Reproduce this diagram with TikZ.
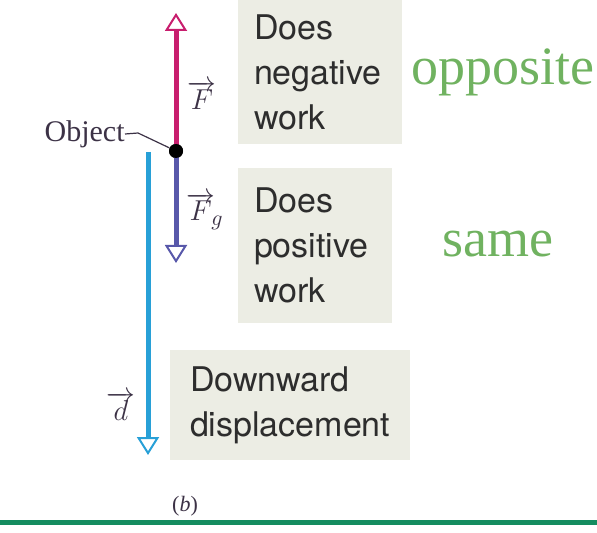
\documentclass[tikz,border=0pt]{standalone}
\usepackage{fontspec}
\setmainfont{Liberation Serif}
\newfontfamily\boxfont{TeX Gyre Heros}
\usetikzlibrary{arrows.meta,positioning}

\definecolor{boxgray}{RGB}{236,237,228}
\definecolor{boxtext}{RGB}{45,45,45}
\definecolor{fcol}{RGB}{200,30,110}
\definecolor{fgcol}{RGB}{88,88,170}
\definecolor{dcol}{RGB}{40,160,215}
\definecolor{notegreen}{RGB}{112,178,96}
\definecolor{rulegreen}{RGB}{20,140,95}
\definecolor{objcol}{RGB}{60,50,70}

\begin{document}
\begin{tikzpicture}[x=0.5pt, y=-0.5pt,
  workbox/.style={rectangle, fill=boxgray, text=boxtext, align=left,
                  inner sep=0pt, font=\boxfont\fontsize{17}{22.5}\selectfont},
  vecarrow/.style={line width=2.5pt,
                   -{Triangle[open, length=9pt, width=11pt, line width=1pt]}},
  veclabel/.style={font=\fontsize{15}{18}\selectfont, text=objcol, inner sep=0pt},
  note/.style={font=\fontsize{27}{30}\selectfont, text=notegreen}]
  \useasboundingbox (0,0) rectangle (597,533);
  % grey boxes
  \node[workbox, minimum width=82pt, minimum height=72.5pt,
        text width=66pt] (negbox) at (320,72) {Does\\negative\\work};
  \node[workbox, minimum width=77pt, minimum height=77.5pt,
        text width=61pt] (posbox) at (315,245.5) {Does\\positive\\work};
  \node[workbox, minimum width=120pt, minimum height=55pt,
        text width=100pt] (dispbox) at (290,405) {Downward\\displacement};
  % the object and its vectors
  \node[circle, fill=black, inner sep=0pt, minimum size=7pt] (obj) at (176,151) {};
  \coordinate (ftip) at (176,13);
  \coordinate (fgtip) at (176,263);
  \coordinate (dstart) at (148,152);
  \coordinate (dtip) at (148,455);
  \draw[vecarrow, fcol] (obj.center) -- (ftip);
  \draw[vecarrow, fgcol] (obj.center) -- (fgtip);
  \draw[vecarrow, dcol] (dstart) -- (dtip);
  \node[circle, fill=black, inner sep=0pt, minimum size=7pt] at (obj) {};
  \node[veclabel] (flabel) at (202,95) {$\overrightarrow{F}$};
  \node[veclabel] (fglabel) at (205,211) {$\overrightarrow{F}_{\!g}$};
  \node[veclabel] (dlabel) at (121,406) {$\overrightarrow{d}$};
  % object label with its leader
  \node[font=\fontsize{15}{17}\selectfont, text=objcol, anchor=east,
        inner sep=0pt] (objlabel) at (125,134) {Object};
  \coordinate (bend) at (138,133);
  \draw[objcol, line width=0.6pt] (objlabel.east) -- (bend) -- (obj);
  % green notes
  \node[note] (opp) at (503,72) {opposite};
  \node[note] (same) at (498,244) {same};
  \node[font=\fontsize{11}{13}\selectfont, text=objcol] (caption) at (185,506) {(\textit{b})};
  % bottom rule
  \coordinate (ruleL) at (0,522);
  \coordinate (ruleR) at (597,522);
  \draw[rulegreen, line width=2.5pt] (ruleL) -- (ruleR);
\end{tikzpicture}
\end{document}
